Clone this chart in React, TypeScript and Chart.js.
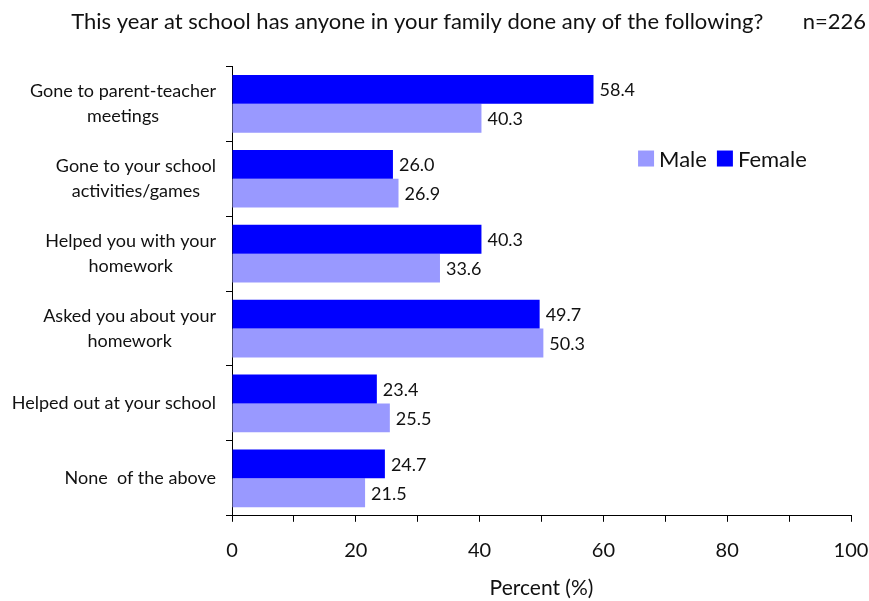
import React, { useEffect, useRef } from "react";
import { Chart, registerables } from "chart.js";

Chart.register(...registerables);

const categories: string[][] = [
  ["Gone to parent-teacher", "meetings"],
  ["Gone to your school", "activities/games"],
  ["Helped you with your", "homework"],
  ["Asked you about your", "homework"],
  ["Helped out at your school"],
  ["None  of the above"],
];
const femaleValues = [58.4, 26.0, 40.3, 49.7, 23.4, 24.7];
const maleValues = [40.3, 26.9, 33.6, 50.3, 25.5, 21.5];
const xTicks = [0, 20, 40, 60, 80, 100];
const titleText = "This year at school has anyone in your family done any of the following?       n=226";
const xAxisTitle = "Percent (%)";

const FONT = "Lato, 'Open Sans', sans-serif";
const TEXT = "#111111";

const yLabelPlugin = {
  id: "yLabels",
  afterDraw(chart: any) {
    const ctx = chart.ctx;
    const yScale = chart.scales.y;
    const area = chart.chartArea;
    ctx.save();
    ctx.font = `18px ${FONT}`;
    ctx.fillStyle = TEXT;
    ctx.textBaseline = "middle";
    ctx.textAlign = "center";
    const right = area.left - 6 - 10;
    const lh = 25;
    categories.forEach((lines, i) => {
      const cy = yScale.getPixelForTick(i);
      const w = Math.max(...lines.map((l) => ctx.measureText(l).width));
      const cx = right - w / 2;
      const y0 = cy - ((lines.length - 1) * lh) / 2;
      lines.forEach((l, j) => ctx.fillText(l, cx, y0 + j * lh));
    });
    ctx.restore();
  },
};

const valueLabelPlugin = {
  id: "valueLabels",
  afterDatasetsDraw(chart: any) {
    const ctx = chart.ctx;
    ctx.save();
    ctx.font = `18px ${FONT}`;
    ctx.fillStyle = TEXT;
    ctx.textBaseline = "middle";
    ctx.textAlign = "left";
    chart.data.datasets.forEach((ds: any, di: number) => {
      const meta = chart.getDatasetMeta(di);
      meta.data.forEach((el: any, i: number) => {
        ctx.fillText(Number(ds.data[i]).toFixed(1), el.x + 6, el.y + 1);
      });
    });
    ctx.restore();
  },
};

const legendPlugin = {
  id: "customLegend",
  afterDraw(chart: any) {
    const ctx = chart.ctx;
    const a = chart.chartArea;
    let x = a.left + (a.right - a.left) * 0.656;
    const cy = a.top + (a.bottom - a.top) * 0.205;
    ctx.save();
    ctx.font = `22px ${FONT}`;
    ctx.textBaseline = "middle";
    ctx.textAlign = "left";
    const order = [1, 0];
    order.forEach((di) => {
      const ds = chart.data.datasets[di];
      ctx.fillStyle = ds.backgroundColor;
      ctx.fillRect(x, cy - 8, 16, 16);
      ctx.fillStyle = TEXT;
      ctx.fillText(ds.label, x + 21, cy + 1);
      x += 21 + ctx.measureText(ds.label).width + 10;
    });
    ctx.restore();
  },
};

export default function App() {
  const ref = useRef<HTMLCanvasElement | null>(null);
  useEffect(() => {
    document.body.style.margin = "0";
    const chart = new Chart(ref.current as HTMLCanvasElement, {
      type: "bar",
      data: {
        labels: categories,
        datasets: [
          {
            label: "Female",
            data: femaleValues,
            backgroundColor: "#0000FF",
            barPercentage: 1,
            categoryPercentage: 0.77,
          },
          {
            label: "Male",
            data: maleValues,
            backgroundColor: "#9999FF",
            barPercentage: 1,
            categoryPercentage: 0.77,
          },
        ],
      },
      options: {
        indexAxis: "y",
        animation: false,
        responsive: false,
        maintainAspectRatio: false,
        layout: { padding: { left: 0, right: 3, top: 0, bottom: 0 } },
        plugins: {
          legend: { display: false },
          tooltip: { enabled: false },
          title: {
            display: true,
            text: titleText,
            align: "end",
            color: TEXT,
            font: { family: FONT, size: 22, weight: "normal" },
            padding: { top: 9, bottom: 31 },
          },
        },
        scales: {
          x: {
            min: 0,
            max: 100,
            ticks: {
              stepSize: 10,
              autoSkip: false,
              maxRotation: 0,
              color: TEXT,
              padding: 17,
              font: { family: FONT, size: 20 },
              callback: (v: any) => (xTicks.includes(Number(v)) ? String(v) : ""),
            },
            grid: {
              display: true,
              drawOnChartArea: false,
              drawTicks: true,
              tickLength: 6,
              color: "#000000",
            },
            border: { display: true, color: "#000000", width: 1 },
            title: {
              display: true,
              text: xAxisTitle,
              color: TEXT,
              font: { family: FONT, size: 21 },
              padding: { top: -4, bottom: 0 },
            },
            afterFit: (scale: any) => {
              scale.paddingLeft = 0;
              scale.paddingRight = 18;
            },
          },
          y: {
            ticks: { color: "transparent", font: { family: FONT, size: 17 }, padding: 10 },
            grid: {
              display: true,
              offset: true,
              drawOnChartArea: false,
              drawTicks: true,
              tickLength: 6,
              color: "#000000",
            },
            border: { display: true, color: "#000000", width: 1 },
            afterFit: (scale: any) => {
              scale.width = 232;
            },
          },
        },
      },
      plugins: [yLabelPlugin, valueLabelPlugin, legendPlugin],
    } as any);
    return () => chart.destroy();
  }, []);
  return (
    <div style={{ width: 869, height: 601, background: "#fff" }}>
      <canvas ref={ref} width={869} height={601} style={{ display: "block" }} />
    </div>
  );
}
